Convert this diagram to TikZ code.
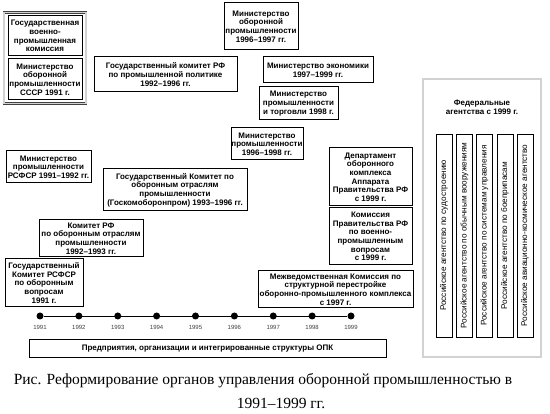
\documentclass[tikz,border=0pt]{standalone}
\usepackage{fontspec}
\setmainfont{Liberation Serif}
\setsansfont{Liberation Sans}
\usetikzlibrary{fit}

\begin{document}
\begin{tikzpicture}[x=1pt, y=-1pt,
        orgbox/.style={draw=black, line width=1pt, fill=white, align=center, inner sep=0pt, font=\sffamily\bfseries\fontsize{8}{8.6}\selectfont},
        framebox/.style={draw=black!75, double=gray!35, double distance=1.6pt, line width=0.5pt},
        agencybox/.style={draw=black, line width=0.6pt, rotate=90, minimum width=203pt, minimum height=16pt, inner sep=0pt, font=\sffamily\fontsize{8.2}{9}\selectfont},
        yeardot/.style={circle, fill=black, inner sep=0pt, minimum size=7pt},
        yearlabel/.style={font=\sffamily\fontsize{6}{7}\selectfont, text=black!75},
        captiontext/.style={font=\fontsize{15.5}{18}\selectfont, inner sep=0pt}]

        \fill[white] (0,0) rectangle (550,414);

        % 1991: union level
        \node[orgbox, minimum width=74pt, minimum height=40pt] (gvpk) at (45,36) {Государственная\\военно-\\промышленная\\комиссия};
        \node[orgbox, minimum width=74pt, minimum height=41pt] (minsssr) at (45,79.5) {Министерство\\оборонной\\промышленности\\СССР 1991 г.};
        \node[framebox, fit=(gvpk)(minsssr), inner xsep=3.5pt, inner ysep=3pt] (sssrframe) {};

        \node[orgbox, minimum width=143pt, minimum height=35pt] (gkpp) at (165.5,74.5) {Государственный комитет РФ\\по промышленной политике\\1992–1996 гг.};
        \node[orgbox, minimum width=74pt, minimum height=47pt] (minobor) at (261,26.5) {Министерство\\оборонной\\промышленности\\1996–1997 гг.};
        \node[orgbox, minimum width=110pt, minimum height=26pt] (minekon) at (318,70) {Министерство экономики\\1997–1999 гг.};
        \node[orgbox, minimum width=79pt, minimum height=33pt] (minpt) at (298.5,103.5) {Министерство\\промышленности\\и торговли 1998 г.};
        \node[orgbox, minimum width=85pt, minimum height=32pt] (minrsfsr) at (48.5,167) {Министерство\\промышленности\\РСФСР 1991–1992 гг.};
        \node[orgbox, minimum width=144pt, minimum height=42pt] (goskom) at (175,190) {Государственный Комитет по\\оборонным отраслям\\промышленности\\(Госкомоборонпром) 1993–1996 гг.};
        \node[orgbox, minimum width=72pt, minimum height=32pt] (minprom) at (267,144) {Министерство\\промышленности\\1996–1998 гг.};
        \node[orgbox, minimum width=83pt, minimum height=58pt] (depok) at (370.5,177) {Департамент\\оборонного\\комплекса\\Аппарата\\Правительства РФ\\с 1999 г.};
        \node[orgbox, minimum width=83pt, minimum height=57pt] (komvpk) at (370.5,236.5) {Комиссия\\Правительства РФ\\по военно-\\промышленным\\вопросам\\с 1999 г.};
        \node[orgbox, minimum width=155pt, minimum height=37pt] (mvk) at (335.5,289.5) {Межведомственная Комиссия по\\структурной перестройке\\оборонно-промышленного комплекса\\с 1997 г.};
        \node[orgbox, minimum width=104pt, minimum height=37pt] (komrf) at (91,238.5) {Комитет РФ\\по оборонным отраслям\\промышленности\\1992–1993 гг.};
        \node[orgbox, minimum width=78pt, minimum height=48pt] (gkrsfsr) at (44,283) {Государственный\\Комитет РСФСР\\по оборонным\\вопросам\\1991 г.};

        % timeline
        \foreach \yr [count=\i from 0] in {1991,...,1999} {
            \node[yeardot] (y\yr) at ({40+38.875*\i},316) {};
            \node[yearlabel] (l\yr) at ({40+38.875*\i},327) {\yr};
        }
        \draw[line width=0.8pt] (y1991) -- (y1999);

        \node[orgbox, minimum width=357pt, minimum height=18pt] (opk) at (207.5,349) {Предприятия, организации и интегрированные структуры ОПК};

        % federal agencies
        \node[framebox, minimum width=118pt, minimum height=278pt] (fedframe) at (482,218) {};
        \node[align=center, font=\sffamily\bfseries\fontsize{8}{9.5}\selectfont] (fedtitle) at (482,107.5) {Федеральные\\агентства с 1999 г.};
        \node[agencybox] (ag1) at (444,235.5) {Российское агентство по судостроению};
        \node[agencybox] (ag2) at (464.5,235.5) {Российское агентство по обычным вооружениям};
        \node[agencybox] (ag3) at (484.5,235.5) {Российское агентство по системам управления};
        \node[agencybox] (ag4) at (505,235.5) {Российское агентство по боеприпасам};
        \node[agencybox] (ag5) at (525,235.5) {Российское авиационно-космическое агентство};

        % caption
        \node[captiontext] (caption1) at (263,381) {Рис. Реформирование органов управления оборонной промышленностью в};
        \node[captiontext] (caption2) at (281,403) {1991–1999 гг.};
      \end{tikzpicture}
\end{document}
